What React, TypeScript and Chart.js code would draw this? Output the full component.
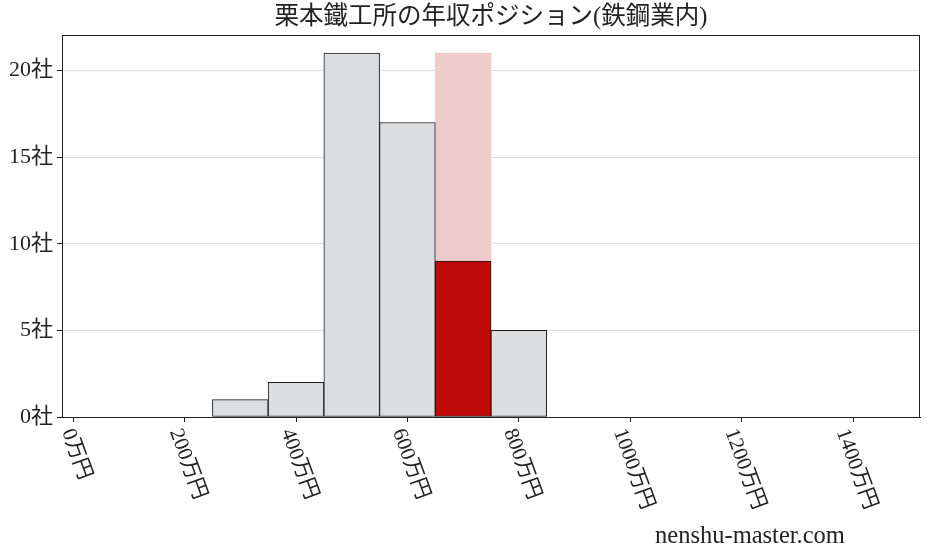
import React, { useEffect, useRef } from 'react';
import { Chart, registerables } from 'chart.js';

Chart.register(...registerables);

// histogram bins (centre of each 100万円 bin) and number of companies
const binCenters = [300, 400, 500, 600, 700, 800];
const companyCounts = [1, 2, 21, 17, 9, 5];
// bin where this company sits, and the height of its pale band
const highlightBin = 700;
const highlightBand = [21];

const xTickValues = [0, 200, 400, 600, 800, 1000, 1200, 1400];
const yTickValues = [0, 5, 10, 15, 20];

const titleText = '栗本鐵工所の年収ポジション(鉄鋼業内)';
const watermark = 'nenshu-master.com';

const FONT = "'Liberation Serif', 'Noto Sans CJK JP', serif";

const frameAndLabels = {
  id: 'frameAndLabels',
  afterDraw(chart: any) {
    const { ctx, chartArea, scales } = chart;
    ctx.save();
    // box round the plot
    ctx.strokeStyle = '#222';
    ctx.lineWidth = 1;
    ctx.strokeRect(chartArea.left + 0.5, chartArea.top + 0.5, chartArea.right - chartArea.left - 1, chartArea.bottom - chartArea.top);

    // title, centred over the plot area
    ctx.fillStyle = '#222';
    ctx.font = `24.5px ${FONT}`;
    ctx.textAlign = 'center';
    ctx.textBaseline = 'middle';
    ctx.fillText(titleText, (chartArea.left + chartArea.right) / 2, 18);

    // rotated x tick labels
    const ang = (70 * Math.PI) / 180;
    ctx.font = `21px ${FONT}`;
    xTickValues.forEach((v) => {
      const label = `${v}万円`;
      const w = ctx.measureText(label).width;
      const h = 21;
      const bboxH = w * Math.sin(ang) + h * Math.cos(ang);
      const x = scales.x.getPixelForValue(v) + 3;
      const y = chartArea.bottom + 9 + bboxH / 2;
      ctx.save();
      ctx.translate(x, y);
      ctx.rotate(ang);
      ctx.fillText(label, 0, 0);
      ctx.restore();
    });

    // site name
    ctx.font = `24.5px ${FONT}`;
    ctx.fillText(watermark, 750, 537);
    ctx.restore();
  },
};

const App: React.FC = () => {
  const chartRef = useRef<HTMLCanvasElement>(null);
  const chartInstance = useRef<Chart | null>(null);

  useEffect(() => {
    document.body.style.margin = '0';
    if (!chartRef.current) return;
    const ctx = chartRef.current.getContext('2d');
    if (!ctx) return;

    chartInstance.current = new Chart(ctx, {
      type: 'bar',
      data: {
        datasets: [
          {
            label: 'companies',
            data: binCenters.map((x, i) => ({ x, y: companyCounts[i] })),
            backgroundColor: binCenters.map((x) => (x === highlightBin ? '#c00a0a' : '#dcdddf')),
            borderColor: '#1a1a1a',
            borderWidth: 1,
            borderSkipped: false,
            barPercentage: 1,
            categoryPercentage: 1,
            grouped: false,
            order: 1,
          },
          {
            label: 'band',
            data: highlightBand.map((y) => ({ x: highlightBin, y })),
            backgroundColor: '#f0cbcb',
            borderWidth: 0,
            barPercentage: 1,
            categoryPercentage: 1,
            grouped: false,
            order: 2,
          },
        ] as any,
      },
      options: {
        responsive: false,
        animation: false,
        events: [],
        layout: { padding: { left: 0, right: 8, top: 35, bottom: 0 } },
        plugins: {
          legend: { display: false },
          tooltip: { enabled: false },
          title: { display: false },
        },
        scales: {
          x: {
            type: 'linear',
            min: -20,
            max: 1520,
            offset: false,
            grid: { offset: false, drawOnChartArea: false, tickLength: 5, color: '#222' },
            border: { color: '#222' },
            ticks: { display: false },
            afterBuildTicks: (s: any) => {
              s.ticks = xTickValues.map((value) => ({ value }));
            },
            afterFit: (s: any) => {
              s.height = 140;
            },
          },
          y: {
            min: 0,
            max: 22.05,
            grid: { color: '#dddddd', tickColor: '#222', tickLength: 5 },
            border: { color: '#222' },
            ticks: {
              includeBounds: false,
              padding: 4,
              color: '#222',
              font: { family: FONT, size: 22 },
              callback: (v: any) => `${v}社`,
            },
            afterBuildTicks: (s: any) => {
              s.ticks = yTickValues.map((value) => ({ value }));
            },
            afterFit: (s: any) => {
              s.width = 62;
            },
          },
        },
      } as any,
      plugins: [frameAndLabels],
    });

    return () => {
      if (chartInstance.current) {
        chartInstance.current.destroy();
        chartInstance.current = null;
      }
    };
  }, []);

  return (
    <div style={{ width: 928, height: 557, background: '#fff' }}>
      <canvas ref={chartRef} width={928} height={557} />
    </div>
  );
};

export default App;
